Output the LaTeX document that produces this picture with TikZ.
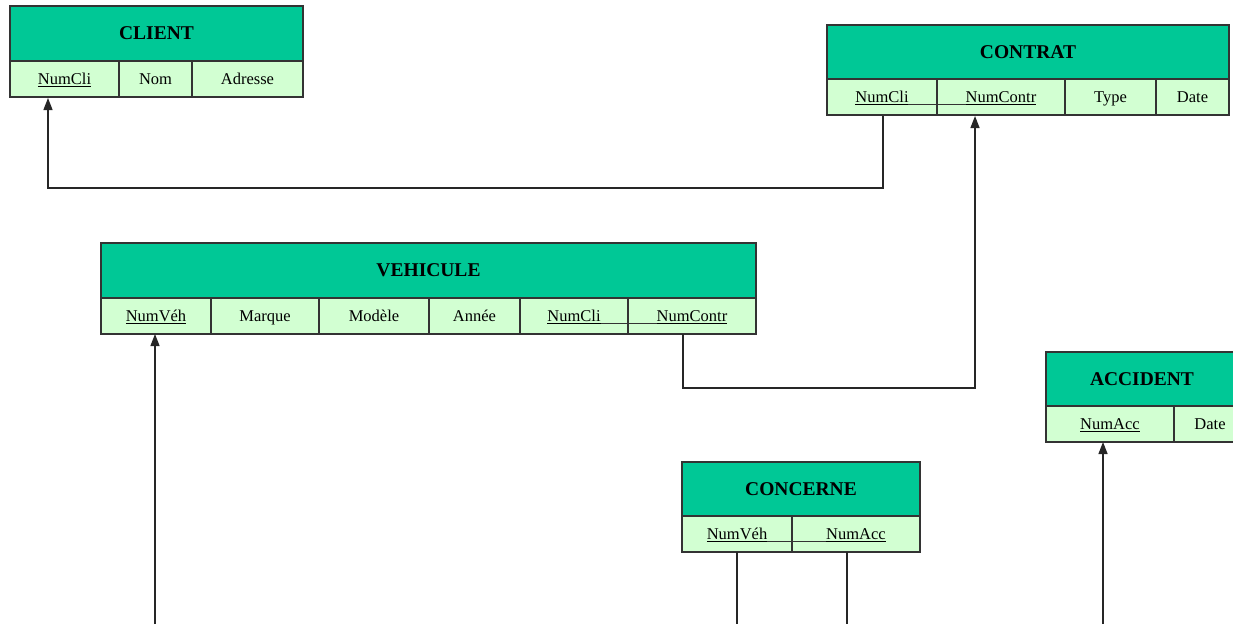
\documentclass[tikz,border=0pt]{standalone}
\usepackage{fontspec}
\setmainfont{Liberation Serif}
\usetikzlibrary{arrows.meta, positioning, calc}
\definecolor{headgreen}{RGB}{0, 200, 150}
\definecolor{fieldgreen}{RGB}{210, 255, 210}

\begin{document}
\begin{tikzpicture}[
    x=1pt, y=-1pt,
    head/.style={draw=black!80, line width=1.2pt, fill=headgreen, anchor=north west, inner sep=0pt, outer sep=0pt, minimum height=55pt, font=\bfseries\fontsize{19.5}{22}\selectfont},
    field/.style={draw=black!80, line width=1.2pt, fill=fieldgreen, anchor=north west, inner sep=0pt, outer sep=0pt, minimum height=36pt, text height=13pt, text depth=2pt, font=\fontsize{16.5}{18}\selectfont},
    arrow/.style={-{Triangle[length=12pt, width=9pt]}, line width=1.3pt, draw=black!85},
    link/.style={line width=1.3pt, draw=black!85},
    keyline/.style={line width=0.7pt, draw=black!80}
]
    \useasboundingbox (0,0) rectangle (1233,624);

    % CLIENT
    \node[head, minimum width=293pt] (client) at (10,6) {CLIENT};
    \node[field, minimum width=109pt] (client-numcli) at (10,61) {\underline{NumCli}};
    \node[field, minimum width=73pt] (client-nom) at (119,61) {Nom};
    \node[field, minimum width=111pt] (client-adresse) at (192,61) {Adresse};

    % CONTRAT
    \node[head, minimum width=402pt] (contrat) at (827,25) {CONTRAT};
    \node[field, minimum width=110pt] (contrat-numcli) at (827,79) {\underline{NumCli}};
    \node[field, minimum width=128pt] (contrat-numcontr) at (937,79) {\underline{NumContr}};
    \node[field, minimum width=91pt] (contrat-type) at (1065,79) {Type};
    \node[field, minimum width=73pt] (contrat-date) at (1156,79) {Date};
    \draw[keyline] ($(contrat-numcli.south east)+(-29,-11)$) -- ($(contrat-numcontr.south west)+(29,-11)$);

    % VEHICULE
    \node[head, minimum width=655pt] (vehicule) at (101,243) {VEHICULE};
    \node[field, minimum width=110pt] (vehicule-numveh) at (101,298) {\underline{NumVéh}};
    \node[field, minimum width=108pt] (vehicule-marque) at (211,298) {Marque};
    \node[field, minimum width=110pt] (vehicule-modele) at (319,298) {Modèle};
    \node[field, minimum width=91pt] (vehicule-annee) at (429,298) {Année};
    \node[field, minimum width=108pt] (vehicule-numcli) at (520,298) {\underline{NumCli}};
    \node[field, minimum width=128pt] (vehicule-numcontr) at (628,298) {\underline{NumContr}};
    \draw[keyline] ($(vehicule-numcli.south east)+(-27,-11)$) -- ($(vehicule-numcontr.south west)+(29,-11)$);

    % ACCIDENT
    \node[head, minimum width=200pt] (accident) at (1046,352) {\hspace*{-8pt}ACCIDENT};
    \node[field, minimum width=128pt] (accident-numacc) at (1046,406) {\underline{NumAcc}};
    \node[field, minimum width=72pt] (accident-date) at (1174,406) {Date};

    % CONCERNE
    \node[head, minimum width=238pt] (concerne) at (682,462) {CONCERNE};
    \node[field, minimum width=110pt] (concerne-numveh) at (682,516) {\underline{NumVéh}};
    \node[field, minimum width=128pt] (concerne-numacc) at (792,516) {\underline{NumAcc}};
    \draw[keyline] ($(concerne-numveh.south east)+(-25,-11)$) -- ($(concerne-numacc.south west)+(34,-11)$);

    % free ends at the bottom edge
    \coordinate (veh-foot) at (155,624);
    \coordinate (cv-foot) at (737,624);
    \coordinate (ca-foot) at (847,624);
    \coordinate (acc-foot) at (1103,624);

    \draw[arrow] (883,116) |- (48,188) -- (48,98);
    \draw[arrow] (683,334) |- (975,388) -- (975,116);
    \draw[arrow] (veh-foot) -- (155,334);
    \draw[link] (737,552) -- (cv-foot);
    \draw[link] (847,552) -- (ca-foot);
    \draw[arrow] (acc-foot) -- (1103,442);
\end{tikzpicture}
\end{document}
